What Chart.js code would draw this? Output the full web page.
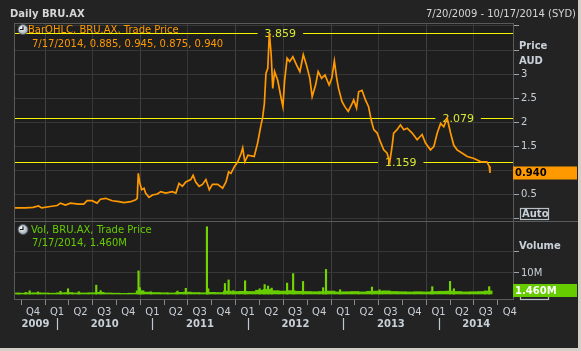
<!DOCTYPE html>
<html>
<head>
<meta charset="utf-8">
<title>Daily BRU.AX</title>
<script src="https://cdn.jsdelivr.net/npm/chart.js@4.4.0/dist/chart.umd.min.js"></script>
<style>
    html, body { margin: 0; padding: 0; background: #d4d0c8; }
    canvas { display: block; }
</style>
</head>
<body>
<canvas id="chart" width="581" height="351"></canvas>
<script>
// Daily BRU.AX - prix + volume

// Cours (AUD)
const priceDates = [
    '2009-07-20', '2009-09-01', '2009-10-01', '2009-10-22', '2009-11-03', '2009-12-06',
    '2010-01-01', '2010-01-14', '2010-02-02', '2010-02-21', '2010-03-25', '2010-04-13',
    '2010-04-26', '2010-05-15', '2010-06-03', '2010-06-16', '2010-07-06', '2010-07-31',
    '2010-08-26', '2010-09-14', '2010-10-10', '2010-10-29', '2010-11-04', '2010-11-08',
    '2010-11-13', '2010-11-21', '2010-11-30', '2010-12-06', '2010-12-19', '2011-01-01',
    '2011-01-20', '2011-02-02', '2011-02-21', '2011-03-18', '2011-04-01', '2011-04-13',
    '2011-04-26', '2011-05-09', '2011-05-28', '2011-06-06', '2011-06-16', '2011-06-29',
    '2011-07-12', '2011-07-25', '2011-08-07', '2011-08-19', '2011-09-08', '2011-09-27',
    '2011-10-10', '2011-10-20', '2011-10-29', '2011-11-11', '2011-11-24', '2011-12-07',
    '2011-12-13', '2011-12-21', '2012-01-02', '2012-01-26', '2012-02-08', '2012-02-21',
    '2012-02-27', '2012-03-05', '2012-03-11', '2012-03-18', '2012-03-24', '2012-03-31',
    '2012-04-06', '2012-04-13', '2012-04-25', '2012-05-08', '2012-05-15', '2012-05-21',
    '2012-05-31', '2012-06-10', '2012-06-22', '2012-07-06', '2012-07-19', '2012-08-01',
    '2012-08-13', '2012-08-26', '2012-09-04', '2012-09-17', '2012-09-27', '2012-10-10',
    '2012-10-23', '2012-11-08', '2012-11-18', '2012-11-28', '2012-12-07', '2012-12-14',
    '2012-12-27', '2013-01-07', '2013-01-20', '2013-02-02', '2013-02-10', '2013-02-21',
    '2013-03-01', '2013-03-14', '2013-03-27', '2013-04-08', '2013-04-18', '2013-04-28',
    '2013-05-11', '2013-05-23', '2013-06-05', '2013-06-18', '2013-06-28', '2013-07-07',
    '2013-07-13', '2013-07-26', '2013-08-08', '2013-08-21', '2013-09-03', '2013-09-22',
    '2013-10-11', '2013-10-30', '2013-11-12', '2013-12-01', '2013-12-14', '2013-12-27',
    '2014-01-09', '2014-01-21', '2014-02-03', '2014-02-16', '2014-02-28', '2014-03-13',
    '2014-04-02', '2014-04-21', '2014-05-17', '2014-06-12', '2014-07-05', '2014-07-14',
    '2014-07-17'
];
const priceValues = [
    0.21, 0.21, 0.22, 0.25, 0.21, 0.24,
    0.26, 0.31, 0.27, 0.31, 0.29, 0.29,
    0.36, 0.36, 0.31, 0.39, 0.41, 0.36,
    0.34, 0.32, 0.34, 0.38, 0.41, 0.93,
    0.75, 0.59, 0.62, 0.52, 0.43, 0.48,
    0.50, 0.55, 0.52, 0.55, 0.52, 0.72,
    0.66, 0.75, 0.80, 0.89, 0.75, 0.66,
    0.70, 0.80, 0.59, 0.70, 0.70, 0.62,
    0.75, 0.96, 0.93, 1.07, 1.17, 1.35,
    1.46, 1.17, 1.31, 1.28, 1.56, 1.94,
    2.08, 2.39, 3.01, 3.12, 3.859, 3.40,
    2.70, 3.05, 2.87, 2.50, 2.32, 2.84,
    3.33, 3.26, 3.36, 3.19, 3.05, 3.40,
    3.19, 2.91, 2.53, 2.77, 3.05, 2.91,
    2.98, 2.77, 2.91, 3.27, 2.91, 2.70,
    2.43, 2.32, 2.22, 2.36, 2.46, 2.29,
    2.63, 2.66, 2.46, 2.32, 2.04, 1.84,
    1.77, 1.59, 1.42, 1.35, 1.159, 1.49,
    1.77, 1.84, 1.94, 1.84, 1.87, 1.77,
    1.63, 1.74, 1.56, 1.42, 1.49, 1.77,
    1.97, 1.90, 2.079, 1.77, 1.52, 1.42,
    1.35, 1.28, 1.24, 1.17, 1.17, 1.08,
    0.94
];

// Volume mensuel de fond (millions)
const volDates = [
    '2009-07-28', '2009-08-15', '2009-09-15', '2009-10-15', '2009-11-15', '2009-12-15',
    '2010-01-15', '2010-02-15', '2010-03-15', '2010-04-15', '2010-05-15', '2010-06-15',
    '2010-07-15', '2010-08-15', '2010-09-15', '2010-10-15', '2010-11-15', '2010-12-15',
    '2011-01-15', '2011-02-15', '2011-03-15', '2011-04-15', '2011-05-15', '2011-06-15',
    '2011-07-15', '2011-08-15', '2011-09-15', '2011-10-15', '2011-11-15', '2011-12-15',
    '2012-01-15', '2012-02-15', '2012-03-15', '2012-04-15', '2012-05-15', '2012-06-15',
    '2012-07-15', '2012-08-15', '2012-09-15', '2012-10-15', '2012-11-15', '2012-12-15',
    '2013-01-15', '2013-02-15', '2013-03-15', '2013-04-15', '2013-05-15', '2013-06-15',
    '2013-07-15', '2013-08-15', '2013-09-15', '2013-10-15', '2013-11-15', '2013-12-15',
    '2014-01-15', '2014-02-15', '2014-03-15', '2014-04-15', '2014-05-15', '2014-06-15',
    '2014-07-10'
];
const volValues = [
    0.5, 0.4, 0.5, 0.6, 0.5, 0.4,
    0.6, 0.7, 0.5, 0.5, 0.6, 0.8,
    0.5, 0.4, 0.3, 0.4, 1.5, 0.9,
    0.7, 0.6, 0.5, 0.8, 0.9, 0.7,
    0.6, 0.8, 0.7, 1.4, 1.2, 1.3,
    1.2, 1.8, 2.2, 1.6, 1.4, 1.6,
    1.3, 1.2, 1.1, 1.2, 1.4, 1.0,
    1.1, 1.2, 1.0, 1.3, 1.4, 1.5,
    1.2, 1.1, 1.0, 1.1, 1.0, 1.2,
    1.3, 1.4, 1.2, 1.0, 1.1, 1.2,
    1.46
];

// Pics de volume (millions)
const spikeDates = [
    '2009-09-03', '2009-09-18', '2009-10-20', '2010-01-14', '2010-02-12', '2010-03-25',
    '2010-05-31', '2010-06-17', '2010-11-09', '2010-11-14', '2010-11-23', '2010-12-26',
    '2011-04-07', '2011-05-09', '2011-07-29', '2011-08-03', '2011-10-06', '2011-10-20',
    '2011-11-07', '2011-12-22', '2012-02-16', '2012-03-06', '2012-03-19', '2012-04-02',
    '2012-05-31', '2012-06-23', '2012-07-31', '2012-10-16', '2012-10-27', '2012-12-20',
    '2013-04-21', '2013-05-20', '2013-12-08', '2014-02-14', '2014-03-01', '2014-07-14'
];
const spikeValues = [
    0.8, 1.5, 1.0, 1.3, 2.5, 1.1,
    4.2, 1.6, 11.0, 3.0, 1.5, 1.0,
    1.4, 2.7, 32.0, 2.5, 5.0, 6.7,
    1.6, 6.3, 2.5, 4.5, 3.8, 2.8,
    5.2, 9.7, 6.0, 3.0, 11.7, 2.0,
    3.3, 2.0, 3.5, 6.0, 2.5, 3.5
];

// Niveaux (lignes jaunes)
const levelValues = [3.859, 2.079, 1.159];
const levelDates = ['2012-03-24', '2014-02-03', '2013-06-28'];

// Axes
const priceTicks = [0, 0.5, 1, 1.5, 2, 2.5, 3, 3.5, 4];
const priceTickLabels = [0.5, 1.5, 2, 2.5, 3];
const volTicks = [10, 20];
const volTickLabels = [10];
const quarterTicks = [
    '2009-10-01', '2010-01-01', '2010-04-01', '2010-07-01', '2010-10-01',
    '2011-01-01', '2011-04-01', '2011-07-01', '2011-10-01',
    '2012-01-01', '2012-04-01', '2012-07-01', '2012-10-01',
    '2013-01-01', '2013-04-01', '2013-07-01', '2013-10-01',
    '2014-01-01', '2014-04-01', '2014-07-01', '2014-10-01'
];
const years = [2009, 2010, 2011, 2012, 2013, 2014];
const rangeStart = '2009-07-20';
const rangeEnd = '2014-10-17';

// Dernière barre
const lastDate = '7/17/2014';
const lastOHLC = [0.885, 0.945, 0.875, 0.940];
const lastVolume = 1.460;

const FONT = '"DejaVu Sans", Verdana, sans-serif';
const TXT = '#c8d0d8';
const GRID = '#373737';
const ORANGE = '#ff9900';
const GREEN = '#66cc00';

function pts(dates, values) {
    return dates.map((d, i) => ({ x: Date.parse(d), y: values[i] }));
}

function drawClock(ctx, x, y) {
    const g = ctx.createRadialGradient(x - 1.5, y - 1.5, 0.5, x, y, 5.5);
    g.addColorStop(0, '#ffffff');
    g.addColorStop(1, '#8c9aa8');
    ctx.beginPath();
    ctx.arc(x, y, 5, 0, Math.PI * 2);
    ctx.fillStyle = g;
    ctx.fill();
    ctx.strokeStyle = '#50585f';
    ctx.lineWidth = 1;
    ctx.stroke();
    ctx.beginPath();
    ctx.moveTo(x, y - 3);
    ctx.lineTo(x, y);
    ctx.lineTo(x - 3, y);
    ctx.strokeStyle = '#111';
    ctx.lineWidth = 1.2;
    ctx.stroke();
}

const backgroundPlugin = {
    id: 'background',
    beforeDraw(chart) {
        const { ctx, chartArea: a } = chart;
        ctx.save();
        ctx.fillStyle = '#d4d0c8';
        ctx.fillRect(0, 0, chart.width, chart.height);
        ctx.fillStyle = '#232323';
        ctx.fillRect(0, 0, 578, 348);
        ctx.fillStyle = '#1e1e1e';
        ctx.fillRect(a.left, a.top, a.right - a.left, a.bottom - a.top);
        ctx.restore();
    }
};

const levelsPlugin = {
    id: 'levels',
    beforeDatasetsDraw(chart) {
        const { ctx, chartArea: a, scales } = chart;
        ctx.save();
        ctx.font = '11px ' + FONT;
        ctx.textBaseline = 'middle';
        ctx.textAlign = 'center';
        levelValues.forEach((v, i) => {
            const y = Math.round(scales.y.getPixelForValue(v)) + 0.5;
            const cx = scales.x.getPixelForValue(Date.parse(levelDates[i])) + 11;
            const label = v.toFixed(3);
            const half = ctx.measureText(label).width / 2 + 7;
            ctx.strokeStyle = '#f5f500';
            ctx.lineWidth = 1;
            ctx.beginPath();
            ctx.moveTo(a.left, y);
            ctx.lineTo(cx - half, y);
            ctx.moveTo(cx + half, y);
            ctx.lineTo(a.right, y);
            ctx.stroke();
            ctx.fillStyle = '#d8e830';
            ctx.fillText(label, cx, y + 1);
        });
        ctx.restore();
    }
};

const decorPlugin = {
    id: 'decor',
    afterDraw(chart) {
        const { ctx, chartArea: a, scales } = chart;
        ctx.save();

        // cadre et séparateur des panneaux
        const sep = Math.round(scales.yVol.top) + 0.5;
        ctx.strokeStyle = '#5a5a5a';
        ctx.lineWidth = 1;
        ctx.strokeRect(a.left + 0.5, a.top + 0.5, a.right - a.left - 1, a.bottom - a.top - 1);
        ctx.beginPath();
        ctx.moveTo(a.left, sep);
        ctx.lineTo(578, sep);
        ctx.stroke();

        // titre
        ctx.textBaseline = 'middle';
        ctx.fillStyle = '#d6d6d6';
        ctx.font = 'bold 10px ' + FONT;
        ctx.textAlign = 'left';
        ctx.fillText('Daily BRU.AX', 10, 14);
        ctx.font = '10px ' + FONT;
        ctx.textAlign = 'right';
        ctx.fillText('7/20/2009 - 10/17/2014 (SYD)', 576, 14);

        // légendes
        ctx.textAlign = 'left';
        drawClock(ctx, 23, 29.5);
        ctx.fillStyle = ORANGE;
        ctx.fillText('BarOHLC, BRU.AX, Trade Price', 28, 30);
        ctx.fillText(lastDate + ', ' + lastOHLC.map(v => v.toFixed(3)).join(', '), 32, 44);
        drawClock(ctx, 23, 229.5);
        ctx.fillStyle = GREEN;
        ctx.fillText('Vol, BRU.AX, Trade Price', 31, 230);
        ctx.fillText(lastDate + ', ' + lastVolume.toFixed(3) + 'M', 32, 243);

        // titres des axes
        ctx.fillStyle = TXT;
        ctx.font = 'bold 10px ' + FONT;
        ctx.fillText('Price', 519, 46);
        ctx.fillText('AUD', 519, 61);
        ctx.fillText('Volume', 519, 246);

        // boutons Auto
        ctx.strokeStyle = '#b8c0c8';
        ctx.strokeRect(520.5, 208.5, 28, 11);
        ctx.fillText('Auto', 522, 214.5);
        ctx.strokeRect(520.5, 288.5, 28, 11);

        // valeurs courantes
        const py = scales.y.getPixelForValue(lastOHLC[3]);
        ctx.fillStyle = ORANGE;
        ctx.fillRect(513, Math.round(py) - 6.5, 64, 13);
        ctx.fillStyle = '#000';
        ctx.fillText(lastOHLC[3].toFixed(3), 515, py + 0.5);
        const vy = scales.yVol.getPixelForValue(lastVolume);
        ctx.fillStyle = GREEN;
        ctx.fillRect(513, Math.round(vy) - 7, 64, 13);
        ctx.fillStyle = '#fff';
        ctx.fillText(lastVolume.toFixed(3) + 'M', 515, vy);

        // années sous les trimestres
        const x = scales.x;
        ctx.font = 'bold 10px ' + FONT;
        ctx.textAlign = 'center';
        ctx.strokeStyle = '#c0c8d0';
        years.forEach(yr => {
            const s = Math.max(Date.parse(yr + '-01-01'), x.min);
            const e = Math.min(Date.parse((yr + 1) + '-01-01'), x.max);
            const x0 = x.getPixelForValue(s), x1 = x.getPixelForValue(e);
            ctx.fillStyle = TXT;
            ctx.fillText(String(yr), (x0 + x1) / 2, 324);
            if (Date.parse(yr + '-01-01') > x.min) {
                const sx = Math.round(x0) + 0.5;
                ctx.beginPath();
                ctx.moveTo(sx, 318);
                ctx.lineTo(sx, 330);
                ctx.stroke();
            }
        });

        ctx.restore();
    }
};

document.addEventListener('DOMContentLoaded', function () {
    const canvas = document.getElementById('chart');

    new Chart(canvas.getContext('2d'), {
        type: 'line',
        data: {
            datasets: [
                {
                    type: 'line',
                    data: pts(priceDates, priceValues),
                    yAxisID: 'y',
                    borderColor: ORANGE,
                    borderWidth: 1.7,
                    pointRadius: 0,
                    tension: 0,
                    fill: false
                },
                {
                    type: 'bar',
                    data: pts(volDates, volValues),
                    yAxisID: 'yVol',
                    backgroundColor: GREEN,
                    barThickness: 8,
                    grouped: false
                },
                {
                    type: 'bar',
                    data: pts(spikeDates, spikeValues),
                    yAxisID: 'yVol',
                    backgroundColor: '#72d400',
                    barThickness: 1.5,
                    grouped: false
                }
            ]
        },
        options: {
            responsive: false,
            animation: false,
            devicePixelRatio: 1,
            events: [],
            layout: { padding: { left: 14, top: 23, right: 0, bottom: 0 } },
            plugins: {
                legend: { display: false },
                tooltip: { enabled: false }
            },
            scales: {
                x: {
                    type: 'linear',
                    min: Date.parse(rangeStart),
                    max: Date.parse(rangeEnd),
                    offset: false,
                    afterBuildTicks: s => { s.ticks = quarterTicks.map(d => ({ value: Date.parse(d) })); },
                    afterFit: s => { s.height = 51; },
                    border: { display: false },
                    grid: {
                        color: c => {
                            if (!c.tick) return 'transparent';
                            const m = new Date(c.tick.value).getUTCMonth();
                            return m === 0 ? '#404040' : (m === 6 ? GRID : 'transparent');
                        },
                        tickColor: '#8a8a8a',
                        tickLength: 5
                    },
                    ticks: {
                        color: TXT,
                        font: { family: FONT, size: 10 },
                        padding: 1,
                        maxRotation: 0,
                        autoSkip: false,
                        callback: v => 'Q' + (Math.floor(new Date(v).getUTCMonth() / 3) + 1)
                    }
                },
                y: {
                    type: 'linear',
                    position: 'right',
                    stack: 'panes',
                    stackWeight: 198,
                    min: -0.0625,
                    max: 4.0625,
                    afterBuildTicks: s => { s.ticks = priceTicks.map(v => ({ value: v })); },
                    afterFit: s => { s.width = 67; },
                    border: { display: false },
                    grid: { color: GRID, tickColor: '#9aa2aa', tickLength: 5 },
                    ticks: {
                        color: TXT,
                        font: { family: FONT, size: 10 },
                        padding: 2,
                        autoSkip: false,
                        callback: v => priceTickLabels.includes(v) ? String(v) : ''
                    }
                },
                yVol: {
                    type: 'linear',
                    position: 'right',
                    stack: 'panes',
                    stackWeight: 79,
                    min: -2.857,
                    max: 34.76,
                    afterBuildTicks: s => { s.ticks = volTicks.map(v => ({ value: v })); },
                    afterFit: s => { s.width = 67; },
                    border: { display: false },
                    grid: { color: GRID, tickColor: '#9aa2aa', tickLength: 5 },
                    ticks: {
                        color: TXT,
                        font: { family: FONT, size: 10 },
                        padding: 2,
                        autoSkip: false,
                        callback: v => volTickLabels.includes(v) ? v + 'M' : ''
                    }
                }
            }
        },
        plugins: [backgroundPlugin, levelsPlugin, decorPlugin]
    });
});
</script>
</body>
</html>
